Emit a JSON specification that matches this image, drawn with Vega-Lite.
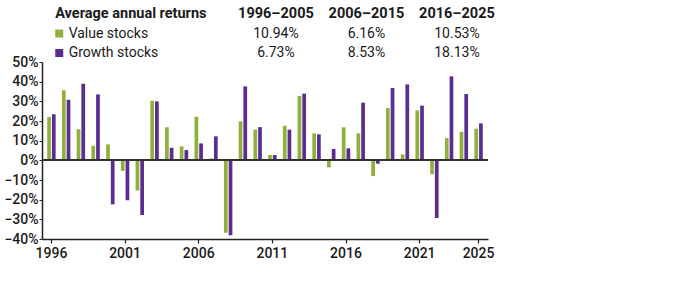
{
  "$schema": "https://vega.github.io/schema/vega-lite/v6.json",
  "background": "white",
  "padding": {"left": 3, "top": 6, "right": 5, "bottom": 5},
  "bounds": "flush",
  "spacing": 9,
  "config": {"view": {"stroke": null}, "font": "Roboto", "axisY": {"labelOverlap": false, "labelFlush": false}},
  "vconcat": [
    {
      "width": 446,
      "height": 39,
      "data": {"values": [
        {"kind": "head", "row": "h", "col": "lab", "label": "Average annual returns"},
        {"kind": "colhead", "row": "h", "col": "c1", "label": "1996–2005"},
        {"kind": "colhead", "row": "h", "col": "c2", "label": "2006–2015"},
        {"kind": "colhead", "row": "h", "col": "c3", "label": "2016–2025"},
        {"kind": "rowlab", "row": "Value stocks", "col": "lab", "label": "Value stocks", "series": "Value stocks"},
        {"kind": "rowlab", "row": "Growth stocks", "col": "lab", "label": "Growth stocks", "series": "Growth stocks"},
        {"kind": "val", "row": "Value stocks", "col": "c1", "label": "10.94%"},
        {"kind": "val", "row": "Value stocks", "col": "c2", "label": "6.16%"},
        {"kind": "val", "row": "Value stocks", "col": "c3", "label": "10.53%"},
        {"kind": "val", "row": "Growth stocks", "col": "c1", "label": "6.73%"},
        {"kind": "val", "row": "Growth stocks", "col": "c2", "label": "8.53%"},
        {"kind": "val", "row": "Growth stocks", "col": "c3", "label": "18.13%"}
      ]},
      "encoding": {
        "x": {"field": "col", "type": "nominal", "axis": null,
              "scale": {"type": "point", "domain": ["lab", "c1", "c2", "c3"], "padding": 0.964, "align": 0.822}},
        "y": {"field": "row", "type": "nominal", "axis": null,
              "scale": {"type": "point", "domain": ["h", "Value stocks", "Growth stocks"], "padding": 0}}
      },
      "layer": [
        {
          "transform": [{"filter": "datum.kind == 'head'"}],
          "mark": {"type": "text", "align": "left", "baseline": "middle", "dx": -130.2, "fontSize": 14.5, "fontWeight": "bold", "color": "#1a1a1a"},
          "encoding": {"text": {"field": "label"}}
        },
        {
          "transform": [{"filter": "datum.kind == 'colhead'"}],
          "mark": {"type": "text", "align": "center", "baseline": "middle", "fontSize": 14.5, "fontWeight": "bold", "color": "#1a1a1a"},
          "encoding": {"text": {"field": "label"}}
        },
        {
          "transform": [{"filter": "datum.kind == 'rowlab'"}],
          "mark": {"type": "text", "align": "left", "baseline": "middle", "dx": -116.8, "fontSize": 14, "color": "#1a1a1a"},
          "encoding": {"text": {"field": "label"}}
        },
        {
          "transform": [{"filter": "datum.kind == 'rowlab'"}],
          "mark": {"type": "square", "size": 64, "opacity": 1, "filled": true, "xOffset": -126.2},
          "encoding": {"color": {"field": "series", "type": "nominal", "legend": null}}
        },
        {
          "transform": [{"filter": "datum.kind == 'val'"}],
          "mark": {"type": "text", "align": "center", "baseline": "middle", "fontSize": 14, "color": "#1a1a1a"},
          "encoding": {"text": {"field": "label"}}
        }
      ]
    },
    {
      "width": 446,
      "height": 177,
      "data": {"values": [
        {"year": 1996, "series": "Value stocks", "r": 22.0}, {"year": 1996, "series": "Growth stocks", "r": 23.4},
        {"year": 1997, "series": "Value stocks", "r": 35.6}, {"year": 1997, "series": "Growth stocks", "r": 30.8},
        {"year": 1998, "series": "Value stocks", "r": 15.8}, {"year": 1998, "series": "Growth stocks", "r": 38.9},
        {"year": 1999, "series": "Value stocks", "r": 7.4}, {"year": 1999, "series": "Growth stocks", "r": 33.5},
        {"year": 2000, "series": "Value stocks", "r": 8.1}, {"year": 2000, "series": "Growth stocks", "r": -22.4},
        {"year": 2001, "series": "Value stocks", "r": -5.4}, {"year": 2001, "series": "Growth stocks", "r": -20.3},
        {"year": 2002, "series": "Value stocks", "r": -15.3}, {"year": 2002, "series": "Growth stocks", "r": -27.8},
        {"year": 2003, "series": "Value stocks", "r": 30.3}, {"year": 2003, "series": "Growth stocks", "r": 30.0},
        {"year": 2004, "series": "Value stocks", "r": 16.8}, {"year": 2004, "series": "Growth stocks", "r": 6.4},
        {"year": 2005, "series": "Value stocks", "r": 7.1}, {"year": 2005, "series": "Growth stocks", "r": 5.2},
        {"year": 2006, "series": "Value stocks", "r": 22.2}, {"year": 2006, "series": "Growth stocks", "r": 8.6},
        {"year": 2007, "series": "Value stocks", "r": 1.0}, {"year": 2007, "series": "Growth stocks", "r": 12.2},
        {"year": 2008, "series": "Value stocks", "r": -36.8}, {"year": 2008, "series": "Growth stocks", "r": -38.1},
        {"year": 2009, "series": "Value stocks", "r": 19.8}, {"year": 2009, "series": "Growth stocks", "r": 37.6},
        {"year": 2010, "series": "Value stocks", "r": 15.6}, {"year": 2010, "series": "Growth stocks", "r": 16.9},
        {"year": 2011, "series": "Value stocks", "r": 2.7}, {"year": 2011, "series": "Growth stocks", "r": 2.7},
        {"year": 2012, "series": "Value stocks", "r": 17.6}, {"year": 2012, "series": "Growth stocks", "r": 15.6},
        {"year": 2013, "series": "Value stocks", "r": 32.7}, {"year": 2013, "series": "Growth stocks", "r": 33.9},
        {"year": 2014, "series": "Value stocks", "r": 13.7}, {"year": 2014, "series": "Growth stocks", "r": 13.2},
        {"year": 2015, "series": "Value stocks", "r": -3.6}, {"year": 2015, "series": "Growth stocks", "r": 5.8},
        {"year": 2016, "series": "Value stocks", "r": 16.8}, {"year": 2016, "series": "Growth stocks", "r": 6.1},
        {"year": 2017, "series": "Value stocks", "r": 13.7}, {"year": 2017, "series": "Growth stocks", "r": 29.3},
        {"year": 2018, "series": "Value stocks", "r": -8.0}, {"year": 2018, "series": "Growth stocks", "r": -1.7},
        {"year": 2019, "series": "Value stocks", "r": 26.6}, {"year": 2019, "series": "Growth stocks", "r": 36.8},
        {"year": 2020, "series": "Value stocks", "r": 3.0}, {"year": 2020, "series": "Growth stocks", "r": 38.6},
        {"year": 2021, "series": "Value stocks", "r": 25.4}, {"year": 2021, "series": "Growth stocks", "r": 27.8},
        {"year": 2022, "series": "Value stocks", "r": -7.0}, {"year": 2022, "series": "Growth stocks", "r": -29.3},
        {"year": 2023, "series": "Value stocks", "r": 11.3}, {"year": 2023, "series": "Growth stocks", "r": 42.7},
        {"year": 2024, "series": "Value stocks", "r": 14.5}, {"year": 2024, "series": "Growth stocks", "r": 33.7},
        {"year": 2025, "series": "Value stocks", "r": 16.1}, {"year": 2025, "series": "Growth stocks", "r": 18.8}
      ]},
      "layer": [
        {
          "mark": {"type": "bar"},
          "encoding": {
            "x": {"field": "year", "type": "ordinal", "title": null,
                  "scale": {"paddingInner": 0, "paddingOuter": 0.14},
                  "axis": {"values": [1996, 2001, 2006, 2011, 2016, 2021, 2025], "labelAngle": 0,
                           "labelFont": "Roboto", "labelFontSize": 14, "labelFontWeight": 500, "labelColor": "#1a1a1a",
                           "domainColor": "#222", "domainWidth": 1.5, "tickColor": "#222", "tickSize": 4, "tickWidth": 1.2, "labelPadding": 3, "grid": false}},
            "xOffset": {"field": "series", "type": "nominal", "sort": ["Value stocks", "Growth stocks"],
                        "scale": {"paddingInner": 0.21, "paddingOuter": 0.67}},
            "y": {"field": "r", "type": "quantitative", "title": null,
                  "scale": {"domain": [-40, 50], "nice": false},
                  "axis": {"values": [-40, -30, -20, -10, 0, 10, 20, 30, 40, 50],
                           "labelExpr": "format(datum.value, 'd') + '%'",
                           "labelOverlap": false, "labelFlush": false,
                           "labelFont": "Roboto", "labelFontSize": 14, "labelFontWeight": 500, "labelColor": "#1a1a1a",
                           "domainColor": "#222", "domainWidth": 1.5, "tickColor": "#222", "tickSize": 3, "tickWidth": 1, "labelPadding": 1, "grid": false}},
            "color": {"field": "series", "type": "nominal",
                      "scale": {"domain": ["Value stocks", "Growth stocks"], "range": ["#8fb03c", "#5b2c91"]},
                      "legend": null}
          }
        },
        {
          "mark": {"type": "rule", "color": "#333", "strokeWidth": 1.2},
          "encoding": {"y": {"datum": 0, "axis": {"values": [-40, -30, -20, -10, 0, 10, 20, 30, 40, 50], "labelOverlap": false}}}
        }
      ]
    }
  ]
}
